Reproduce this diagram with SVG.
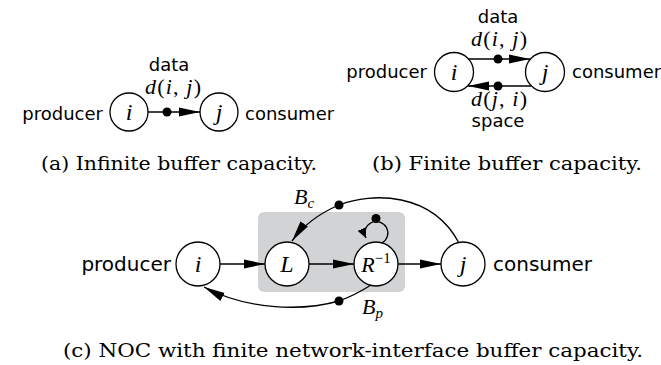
<svg xmlns="http://www.w3.org/2000/svg" width="661" height="365" viewBox="0 0 661 365">
<style>
.node{fill:#fff;stroke:#000;stroke-width:1.3}
.edge{fill:none;stroke:#000;stroke-width:1.3}
.dot{fill:#000}
.sans{font-family:"DejaVu Sans",sans-serif;font-size:18px;fill:#000}
.sansL{font-family:"DejaVu Sans",sans-serif;font-size:20px;fill:#000}
.math{font-family:"Liberation Serif",serif;font-size:22px;fill:#000}
.lbl{font-family:"Liberation Serif",serif;font-size:24px;fill:#000}
.it{font-style:italic}
.cap{font-family:"DejaVu Serif",serif;font-size:19px;fill:#000}
</style>
<defs>
<marker id="ah" viewBox="0 0 21 10" refX="21" refY="5" markerWidth="21" markerHeight="10" markerUnits="userSpaceOnUse" orient="auto">
<path d="M0 0.5 L21 5 L0 9.5 z" fill="#000"/>
</marker>
<marker id="ahs" viewBox="0 0 10 9" refX="10" refY="4.5" markerWidth="10" markerHeight="9" markerUnits="userSpaceOnUse" orient="auto">
<path d="M0 0 L10 4.5 L0 9 z" fill="#000"/>
</marker>
</defs>

<!-- (a) -->
<g id="a-i"><circle class="node" cx="129" cy="112" r="19"/><text class="lbl it" x="129" y="120" text-anchor="middle">i</text></g>
<g id="a-j"><circle class="node" cx="219" cy="112" r="19"/><text class="lbl it" x="219" y="120" text-anchor="middle">j</text></g>
<text class="sans" x="103" y="120" text-anchor="end">producer</text>
<text class="sans" x="245" y="120">consumer</text>
<text class="sans" x="169" y="71" text-anchor="middle">data</text>
<text class="math" x="173" y="94" text-anchor="middle" textLength="56"><tspan class="it">d</tspan>(<tspan class="it">i</tspan>, <tspan class="it">j</tspan>)</text>
<g id="a-edges">
<line class="edge" x1="148" y1="112" x2="200" y2="112" marker-end="url(#ah)"/>
<circle class="dot" cx="167" cy="112" r="4.5"/>
</g>
<text class="cap" x="41" y="170" textLength="276" lengthAdjust="spacingAndGlyphs">(a) Infinite buffer capacity.</text>

<!-- (b) -->
<g id="b-i"><circle class="node" cx="454" cy="72" r="19.5"/><text class="lbl it" x="454" y="80" text-anchor="middle">i</text></g>
<g id="b-j"><circle class="node" cx="545" cy="72" r="19.5"/><text class="lbl it" x="545" y="80" text-anchor="middle">j</text></g>
<text class="sans" x="427" y="78" text-anchor="end">producer</text>
<text class="sans" x="572" y="78">consumer</text>
<text class="sans" x="498" y="23" text-anchor="middle">data</text>
<text class="math" x="499" y="46" text-anchor="middle" textLength="56"><tspan class="it">d</tspan>(<tspan class="it">i</tspan>, <tspan class="it">j</tspan>)</text>
<text class="math" x="499" y="106" text-anchor="middle" textLength="56"><tspan class="it">d</tspan>(<tspan class="it">j</tspan>, <tspan class="it">i</tspan>)</text>
<text class="sans" x="498" y="127" text-anchor="middle">space</text>
<g id="b-edges">
<line class="edge" x1="468" y1="59" x2="530" y2="59" marker-end="url(#ah)"/>
<circle class="dot" cx="498" cy="59" r="4.5"/>
<line class="edge" x1="531" y1="86" x2="468" y2="86" marker-end="url(#ah)"/>
<circle class="dot" cx="498" cy="86" r="4.5"/>
</g>
<text class="cap" x="372" y="170" textLength="270" lengthAdjust="spacingAndGlyphs">(b) Finite buffer capacity.</text>

<!-- (c) -->
<rect id="c-box" x="258" y="212" width="147" height="80" rx="6" fill="#d1d3d4"/>
<g id="c-i"><circle class="node" cx="198" cy="264" r="22"/><text class="lbl it" x="198" y="272" text-anchor="middle">i</text></g>
<g id="c-L"><circle class="node" cx="287" cy="264" r="22"/><text class="lbl it" x="287" y="272" text-anchor="middle">L</text></g>
<g id="c-R"><circle class="node" cx="376" cy="264" r="22"/><text class="math" x="376" y="272" text-anchor="middle"><tspan class="it">R</tspan><tspan font-size="15" dy="-9">−1</tspan></text></g>
<g id="c-j"><circle class="node" cx="463" cy="264" r="22"/><text class="lbl it" x="463" y="272" text-anchor="middle">j</text></g>
<text class="sansL" x="171" y="271" text-anchor="end">producer</text>
<text class="sansL" x="493" y="271">consumer</text>
<g id="c-edges">
<line class="edge" x1="220" y1="264" x2="265" y2="264" marker-end="url(#ah)"/>
<line class="edge" x1="309" y1="264" x2="354" y2="264" marker-end="url(#ah)"/>
<line class="edge" x1="398" y1="264" x2="441" y2="264" marker-end="url(#ah)"/>
<path class="edge" d="M459 243 C432 192 372 192 339 205 C318 214 302 227 292 241" marker-end="url(#ah)"/>
<circle class="dot" cx="339" cy="205" r="4.5"/>
<path class="edge" d="M382 243 A11.5 11.5 0 1 0 366 238" marker-end="url(#ahs)"/>
<circle class="dot" cx="376" cy="218.5" r="4.5"/>
<path class="edge" d="M371 285 C360 292 350 297 339 301 C300 312 245 309 204 287" marker-end="url(#ah)"/>
<circle class="dot" cx="339" cy="301" r="4.5"/>
</g>
<text class="math" x="294" y="204"><tspan class="it">B</tspan><tspan class="it" font-size="15" dy="4">c</tspan></text>
<text class="math" x="362" y="314"><tspan class="it">B</tspan><tspan class="it" font-size="15" dy="4">p</tspan></text>
<text class="cap" x="63" y="357" textLength="580" lengthAdjust="spacingAndGlyphs">(c) NOC with finite network-interface buffer capacity.</text>
</svg>
